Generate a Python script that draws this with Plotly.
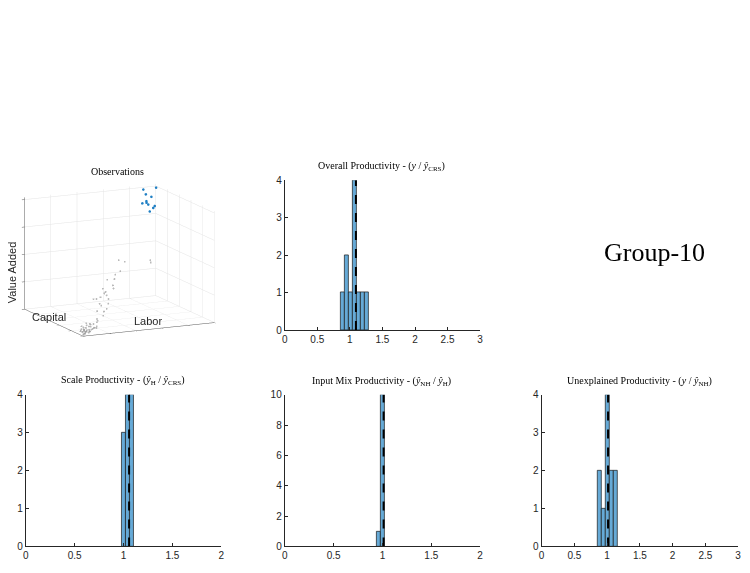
import plotly.graph_objects as go

# ---------------- data ----------------
# 3D observations (other groups, grey) : labor, capital, value added
labor_other = [1, 2, 3, 4, 5, 2, 3, 6, 7, 4, 5, 8, 2, 6, 9, 3, 10, 5, 7, 11, 4, 8, 12, 6, 3, 9, 13, 5, 7, 2,
               10, 14, 6, 4, 8, 11, 3, 15, 9, 5,
               14, 16, 18, 20, 17, 22, 15, 19, 24, 21, 26, 23, 18, 28, 25, 30, 20, 27, 32, 22, 29, 34,
               36, 69, 72, 45]
capital_other = [2, 1, 4, 3, 2, 6, 5, 3, 5, 8, 1, 4, 9, 7, 2, 11, 6, 10, 3, 5, 12, 8, 4, 13, 7, 9, 6, 14, 11, 3,
                 10, 8, 2, 5, 12, 7, 4, 9, 15, 6,
                 8, 12, 6, 14, 10, 9, 16, 13, 11, 7, 15, 18, 5, 12, 20, 14, 22, 9, 17, 11, 24, 13,
                 20, 40, 46, 30]
va_other = [1, 2, 1, 3, 2, 2, 4, 3, 2, 3, 5, 4, 2, 3, 6, 2, 4, 3, 7, 5, 3, 6, 5, 4, 2, 8, 6, 5, 4, 1,
            7, 9, 3, 2, 6, 8, 3, 10, 7, 2,
            12, 18, 15, 22, 25, 20, 28, 30, 24, 33, 27, 36, 19, 40, 31, 45, 26, 38, 48, 35, 42, 52,
            60, 51, 47, 55]
# Group-10 observations (blue)
labor_g10 = [86, 98, 87, 93, 83, 87, 88, 96, 94, 90, 88]
capital_g10 = [90, 95, 88, 92, 85, 87, 89, 93, 91, 88, 86]
va_g10 = [101, 100, 97, 93, 90, 91, 89, 84, 83, 81, 88]

# Histograms: bin edges, counts, mean (dashed line)
overall_edges = [0.864, 0.926, 0.987, 1.049, 1.110, 1.172, 1.233, 1.295]
overall_counts = [1, 2, 1, 4, 1, 1, 1]
overall_mean = 1.093

scale_edges = [0.980, 1.020, 1.061, 1.101]
scale_counts = [3, 4, 4]
scale_mean = 1.057

mix_edges = [0.938, 0.978, 1.019]
mix_counts = [1, 10]
mix_mean = 1.012

unexp_edges = [0.851, 0.913, 0.975, 1.037, 1.099, 1.161]
unexp_counts = [2, 1, 4, 2, 2]
unexp_mean = 1.014

x_ticks_3 = [0, 0.5, 1, 1.5, 2, 2.5, 3]
x_ticks_2 = [0, 0.5, 1, 1.5, 2]

# ---------------- figure ----------------
W, H = 750, 573
fig = go.Figure()

BAR_COLOR = "#66AAD7"
TICK_FONT = dict(family="Liberation Sans, Arial", size=10, color="#262626")
TITLE_FONT = dict(family="Liberation Serif, DejaVu Serif", size=10, color="#000000")
LABEL_FONT = dict(family="Liberation Sans, Arial", size=11, color="#262626")


def px_x(a, b):
    return [a / W, b / W]


def px_y(top, bottom):
    return [1 - bottom / H, 1 - top / H]


panels = [
    ("", overall_edges, overall_counts, overall_mean, 3, 4, 1, x_ticks_3, px_x(284, 481), px_y(178, 331)),
    ("2", scale_edges, scale_counts, scale_mean, 2, 4, 1, x_ticks_2, px_x(23, 220), px_y(397, 552)),
    ("3", mix_edges, mix_counts, mix_mean, 2, 10, 2, x_ticks_2, px_x(284, 481), px_y(397, 552)),
    ("4", unexp_edges, unexp_counts, unexp_mean, 3, 4, 1, x_ticks_3, px_x(543, 741), px_y(397, 552)),
]

for suf, edges, counts, mean, xmax, ymax, ydt, xt, xd, yd in panels:
    centers = [(edges[i] + edges[i + 1]) / 2 for i in range(len(counts))]
    widths = [edges[i + 1] - edges[i] for i in range(len(counts))]
    fig.add_trace(go.Bar(
        x=centers, y=counts, width=widths,
        marker=dict(color=BAR_COLOR, line=dict(color="#1a1a1a", width=0.7)),
        xaxis="x" + suf, yaxis="y" + suf, showlegend=False, hoverinfo="skip"))
    fig.add_trace(go.Scatter(
        x=[mean, mean], y=[0, ymax], mode="lines",
        line=dict(color="black", width=2, dash="dash"),
        xaxis="x" + suf, yaxis="y" + suf, showlegend=False, hoverinfo="skip"))
    common = dict(showgrid=False, zeroline=False, showline=True, linecolor="#262626", linewidth=1,
                  ticks="inside", ticklen=3, tickcolor="#262626", tickfont=TICK_FONT)
    fig.layout["xaxis" + suf] = dict(domain=xd, range=[0, xmax], tickvals=xt,
                                     anchor="y" + suf, **common)
    fig.layout["yaxis" + suf] = dict(domain=yd, range=[0, ymax], dtick=ydt,
                                     anchor="x" + suf, **common)

# 3D scatter
fig.add_trace(go.Scatter3d(x=labor_other, y=capital_other, z=va_other, mode="markers",
                           marker=dict(size=1.1, color="#9a9a9a", opacity=0.7),
                           showlegend=False, hoverinfo="skip", scene="scene"))
fig.add_trace(go.Scatter3d(x=labor_g10, y=capital_g10, z=va_g10, mode="markers",
                           marker=dict(size=1.5, color="#1f7fc4"),
                           showlegend=False, hoverinfo="skip", scene="scene"))

ax3 = dict(showbackground=False, showgrid=True, gridcolor="#e4e4e4", gridwidth=1,
           zeroline=False, showline=True, linecolor="#5a5a5a", linewidth=1,
           showticklabels=False, ticks="outside", ticklen=3, tickcolor="#5a5a5a",
           range=[0, 100], showspikes=False, title=dict(text=""))
fig.update_layout(scene=dict(
    domain=dict(x=px_x(0, 235), y=px_y(175, 345)),
    xaxis=dict(ax3, dtick=20),
    yaxis=dict(ax3, dtick=20),
    zaxis=dict(ax3, dtick=25, range=[0, 102]),
    aspectmode="manual", aspectratio=dict(x=1.75, y=1.65, z=1.38),
    camera=dict(eye=dict(x=-0.9, y=-1.9, z=0.47), up=dict(x=0, y=0, z=1),
                center=dict(x=0, y=0, z=0), projection=dict(type="orthographic")),
))

annotations = [
    dict(text="Observations", x=115 / W, y=1 - 169 / H),
    dict(text="Overall Productivity - (<i>y</i> / <i>ŷ</i><sub>CRS</sub>)", x=382 / W, y=1 - 164 / H),
    dict(text="Scale Productivity - (<i>ŷ</i><sub>H</sub> / <i>ŷ</i><sub>CRS</sub>)", x=121 / W, y=1 - 383 / H),
    dict(text="Input Mix Productivity - (<i>ŷ</i><sub>NH</sub> / <i>ŷ</i><sub>H</sub>)", x=382 / W, y=1 - 384 / H),
    dict(text="Unexplained Productivity - (<i>y</i> / <i>ŷ</i><sub>NH</sub>)", x=642 / W, y=1 - 384 / H),
]
ann = [dict(a, xref="paper", yref="paper", showarrow=False, xanchor="center", yanchor="middle",
            font=TITLE_FONT) for a in annotations]
# 3D axis labels
ann.append(dict(text="Value Added", x=9 / W, y=1 - 272 / H, textangle=-90, xref="paper", yref="paper",
                showarrow=False, xanchor="center", yanchor="middle", font=LABEL_FONT))
ann.append(dict(text="Capital", x=46 / W, y=1 - 318 / H, xref="paper", yref="paper",
                showarrow=False, xanchor="center", yanchor="middle", font=LABEL_FONT))
ann.append(dict(text="Labor", x=146 / W, y=1 - 322 / H, xref="paper", yref="paper",
                showarrow=False, xanchor="center", yanchor="middle", font=LABEL_FONT))
ann.append(dict(text="Group-10", x=657 / W, y=1 - 252 / H, xref="paper", yref="paper",
                showarrow=False, xanchor="center", yanchor="middle",
                font=dict(family="Liberation Serif, DejaVu Serif", size=26, color="#000000")))

fig.update_layout(
    width=W, height=H, margin=dict(l=0, r=0, t=0, b=0),
    paper_bgcolor="white", plot_bgcolor="white",
    annotations=ann, bargap=0, showlegend=False,
)

fig.write_html("out.html", config={"displayModeBar": False})
